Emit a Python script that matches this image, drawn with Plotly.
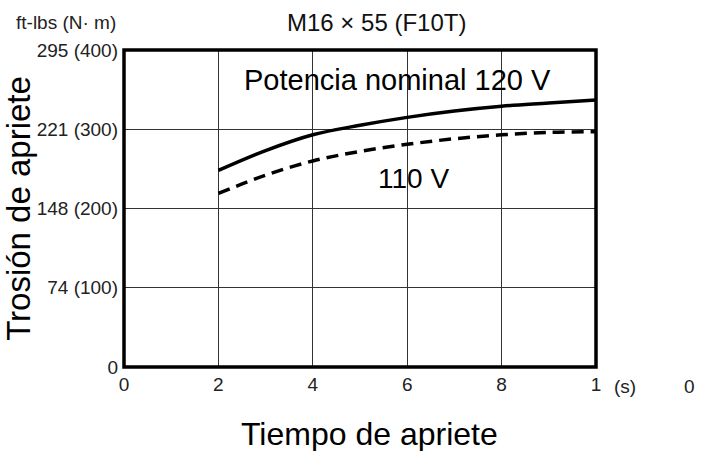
import plotly.graph_objects as go

# Data (time in s, torque in N·m)
time_s = [2, 3, 4, 5, 6, 7, 8, 9, 10]
torque_120v = [248, 273, 293, 305, 315, 323, 329, 333, 337]
torque_110v = [219, 242, 260, 272, 281, 288, 293, 296, 297]

x_tick_vals = [0, 2, 4, 6, 8, 10]
x_tick_text = ["0", "2", "4", "6", "8", "1"]
y_tick_vals = [0, 100, 200, 300, 400]
y_tick_text = ["0", "74 (100)", "148 (200)", "221 (300)", "295 (400)"]
ref_torque = 300

SANS = "Liberation Sans, Arial, Helvetica, sans-serif"
TICK = dict(family=SANS, size=19, color="#222222")

fig = go.Figure()
fig.add_trace(go.Scatter(x=time_s, y=torque_120v, mode="lines",
                         line=dict(color="black", width=3.5, shape="spline"),
                         showlegend=False, hoverinfo="skip"))
fig.add_trace(go.Scatter(x=time_s, y=torque_110v, mode="lines",
                         line=dict(color="black", width=3.5, dash="12px,7px", shape="spline"),
                         showlegend=False, hoverinfo="skip"))

fig.add_hline(y=ref_torque, line=dict(color="black", width=2.5))

fig.update_layout(
    width=701, height=451,
    margin=dict(l=124, r=105, t=50, b=84),
    paper_bgcolor="white", plot_bgcolor="white",
    font=dict(family=SANS, color="black"),
    xaxis=dict(range=[0, 10], tickvals=x_tick_vals, ticktext=x_tick_text,
               showgrid=True, gridcolor="#333333", gridwidth=1.4,
               zeroline=False, showline=False, ticks="", automargin=False,
               tickfont=TICK, ticklabelstandoff=4),
    yaxis=dict(range=[0, 400], tickvals=y_tick_vals, ticktext=y_tick_text,
               showgrid=True, gridcolor="#333333", gridwidth=1.4,
               zeroline=False, showline=False, ticks="", automargin=False,
               tickfont=TICK, ticklabelstandoff=5,
               title=dict(text="Trosión de apriete", font=dict(family=SANS, size=33, color="black"),
                          standoff=8)),
    shapes=[dict(type="rect", xref="paper", yref="paper", x0=0, x1=1, y0=0, y1=1,
                 line=dict(color="black", width=3.5), layer="above")],
    annotations=[
        dict(text="M16 × 55 (F10T)", xref="paper", yref="paper", x=0.534, y=1.0,
             xanchor="center", yanchor="middle", yshift=28, showarrow=False,
             font=dict(family=SANS, size=24, color="#111111")),
        dict(text="ft-lbs (N· m)", xref="paper", yref="paper", x=-0.233, y=1.0,
             yanchor="middle", yshift=28, xanchor="left", showarrow=False,
             font=dict(family=SANS, size=19, color="#222222")),
        dict(text="Tiempo de apriete", xref="paper", yref="paper", x=0.521, y=0,
             xanchor="center", yanchor="middle", yshift=-67, showarrow=False,
             font=dict(family=SANS, size=32, color="black")),
        dict(text="Potencia nominal 120 V", xref="x", yref="y", x=5.8, y=362,
             xanchor="center", showarrow=False, font=dict(family=SANS, size=29, color="black")),
        dict(text="110 V", xref="x", yref="y", x=6.14, y=238,
             xanchor="center", showarrow=False, font=dict(family=SANS, size=28, color="black")),
        dict(text="(s)", xref="paper", yref="paper", x=1.061, y=0, xanchor="center",
             yanchor="middle", yshift=-19, showarrow=False, font=TICK),
        dict(text="0", xref="paper", yref="paper", x=1.199, y=0, xanchor="center",
             yanchor="middle", yshift=-19, showarrow=False, font=TICK),
    ],
)

fig.write_html("out.html")
